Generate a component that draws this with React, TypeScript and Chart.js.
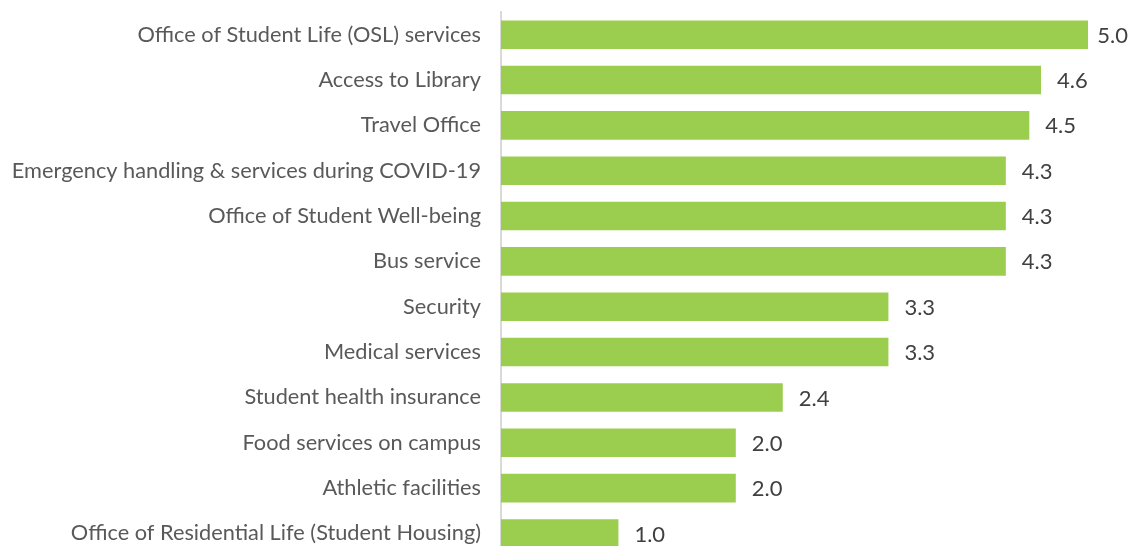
import React, { useEffect, useRef } from "react";
import { Chart, registerables } from "chart.js";

Chart.register(...registerables);

const categories: string[] = [
  "Office of Student Life (OSL) services",
  "Access to Library",
  "Travel Office",
  "Emergency handling & services during COVID-19",
  "Office of Student Well-being",
  "Bus service",
  "Security",
  "Medical services",
  "Student health insurance",
  "Food services on campus",
  "Athletic facilities",
  "Office of Residential Life (Student Housing)",
];

const values: number[] = [5.0, 4.6, 4.5, 4.3, 4.3, 4.3, 3.3, 3.3, 2.4, 2.0, 2.0, 1.0];

const FONT = "Lato";

const valueLabels = {
  id: "valueLabels",
  afterDatasetsDraw(chart: any) {
    const ctx = chart.ctx;
    const meta = chart.getDatasetMeta(0);
    ctx.save();
    ctx.font = `22px ${FONT}`;
    ctx.fillStyle = "#404040";
    ctx.textAlign = "left";
    ctx.textBaseline = "middle";
    meta.data.forEach((bar: any, i: number) => {
      const txt = values[i].toFixed(1);
      const w = ctx.measureText(txt).width;
      const x = Math.min(bar.x + 16, chart.width - 4 - w);
      ctx.fillText(txt, x, bar.y + 1);
    });
    ctx.restore();
  },
};

export default function App() {
  const ref = useRef<HTMLCanvasElement>(null);
  useEffect(() => {
    document.body.style.margin = "0";
    document.body.style.overflow = "hidden";
    if (!ref.current) return;
    const chart = new Chart(ref.current, {
      type: "bar",
      data: {
        labels: categories,
        datasets: [
          {
            data: values,
            backgroundColor: "#9BCE4E",
            barPercentage: 0.63,
            categoryPercentage: 1,
          },
        ],
      },
      options: {
        indexAxis: "y",
        animation: false,
        responsive: true,
        maintainAspectRatio: false,
        layout: { padding: { top: 12, right: 44, bottom: 0, left: 0 } },
        plugins: { legend: { display: false }, tooltip: { enabled: false } },
        scales: {
          x: { display: false, min: 0, max: 5 },
          y: {
            afterFit: (scale: any) => {
              scale.width = 501;
            },
            grid: { display: false, drawTicks: true, tickLength: 20 },
            border: { display: true, color: "#D9D9D9", width: 2 },
            ticks: {
              padding: 0,
              color: "#595959",
              font: { family: FONT, size: 21.75, lineHeight: 1 },
            },
          },
        },
      },
      plugins: [valueLabels],
    });
    return () => chart.destroy();
  }, []);
  return (
    <div style={{ position: "relative", width: 1132, height: 567 }}>
      <canvas ref={ref} />
    </div>
  );
}
